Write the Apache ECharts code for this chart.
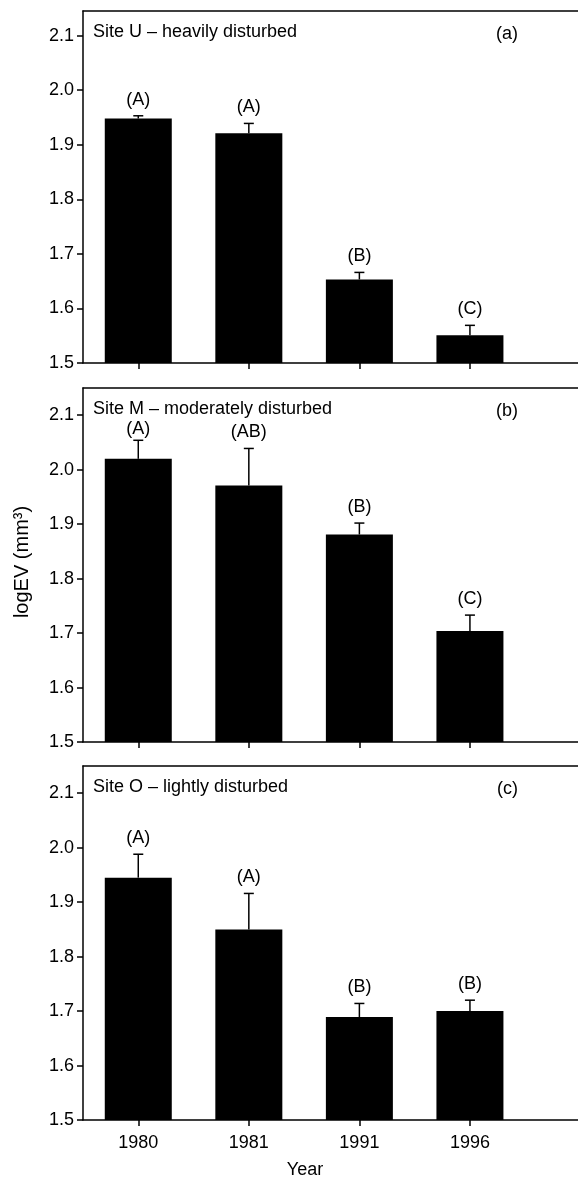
<!DOCTYPE html>
<html>
<head>
<meta charset="utf-8">
<script src="https://cdn.jsdelivr.net/npm/echarts@6/dist/echarts.min.js"></script>
<style>
html,body{margin:0;padding:0;background:#fff;}
#chart{width:578px;height:1182px;}
</style>
</head>
<body>
<div id="chart"></div>
<script>
// ---- data ----
const years = ['1980', '1981', '1991', '1996'];
const panelTitles = ['Site U \u2013 heavily disturbed', 'Site M \u2013 moderately disturbed', 'Site O \u2013 lightly disturbed'];
const panelTags = ['(a)', '(b)', '(c)'];
const yTicks = [1.5, 1.6, 1.7, 1.8, 1.9, 2.0, 2.1];

const meanU = [1.948, 1.921, 1.653, 1.551];
const seU = [0.005, 0.018, 0.013, 0.018];
const groupU = ['(A)', '(A)', '(B)', '(C)'];

const meanM = [2.020, 1.971, 1.881, 1.704];
const seM = [0.034, 0.068, 0.021, 0.029];
const groupM = ['(A)', '(AB)', '(B)', '(C)'];

const meanO = [1.945, 1.850, 1.689, 1.700];
const seO = [0.043, 0.066, 0.025, 0.020];
const groupO = ['(A)', '(A)', '(B)', '(B)'];

const yAxisTitle = 'logEV (mm\u00B3)';
const xAxisTitle = 'Year';

// ---- layout ----
const FONT = '"Liberation Sans", Arial, Helvetica, sans-serif';
const FS = 18;
const W = 578;
const panels = [
  { top: 11, height: 352, max: 2.145, mean: meanU, se: seU, grp: groupU },
  { top: 388, height: 354, max: 2.15, mean: meanM, se: seM, grp: groupM },
  { top: 766, height: 354, max: 2.15, mean: meanO, se: seO, grp: groupO }
];
const LEFT = 83;
const BAND = 111;
const X_MIN = 0.5;
const X_MAX = X_MIN + (W + 2 - LEFT) / BAND; // plot runs past the right edge

const grids = [], xAxes = [], yAxes = [], series = [], graphics = [];
const xPos = years.map((y, i) => i + 1);
const lineStyle = { color: '#000', width: 1.5 };

panels.forEach((p, gi) => {
  grids.push({ left: LEFT, top: p.top, right: -2, height: p.height, show: false });
  // bottom axis
  xAxes.push({
    type: 'value', gridIndex: gi, min: X_MIN, max: X_MAX, position: 'bottom',
    axisLine: { show: true, onZero: false, lineStyle },
    axisTick: { show: true, length: 6, customValues: xPos, lineStyle },
    axisLabel: {
      show: gi === 2, customValues: xPos, margin: 14,
      formatter: v => years[Math.round(v) - 1] || '',
      color: '#000', fontFamily: FONT, fontSize: FS
    },
    splitLine: { show: false }
  });
  // top frame line
  xAxes.push({
    type: 'value', gridIndex: gi, min: X_MIN, max: X_MAX, position: 'top',
    axisLine: { show: true, onZero: false, lineStyle },
    axisTick: { show: false }, axisLabel: { show: false }, splitLine: { show: false }
  });
  yAxes.push({
    type: 'value', gridIndex: gi, min: 1.5, max: p.max,
    axisLine: { show: true, onZero: false, lineStyle },
    axisTick: { show: true, length: 6, customValues: yTicks, lineStyle },
    axisLabel: {
      customValues: yTicks, margin: 9,
      formatter: v => Number(v).toFixed(1),
      color: '#000', fontFamily: FONT, fontSize: FS
    },
    splitLine: { show: false }
  });
  series.push({
    type: 'bar', xAxisIndex: gi * 2, yAxisIndex: gi,
    barWidth: 67,
    itemStyle: { color: '#000' },
    data: p.mean.map((m, i) => [xPos[i], m]),
    clip: true,
    silent: true
  });
  const grp = p.grp, se = p.se;
  series.push({
    type: 'custom', xAxisIndex: gi * 2, yAxisIndex: gi,
    data: p.mean.map((m, i) => [xPos[i], m, se[i]]),
    renderItem: (params, api) => {
      const x = api.value(0), m = api.value(1), e = api.value(2);
      const base = api.coord([x, m]);
      const top = api.coord([x, m + e]);
      const cap = 5;
      const gridTop = params.coordSys.y;
      let labelBottom = top[1] - 7;
      const minTop = gridTop + 35;
      if (labelBottom - 15 < minTop) labelBottom = minTop + 15;
      return {
        type: 'group',
        children: [
          { type: 'line', shape: { x1: base[0], y1: base[1], x2: top[0], y2: top[1] }, style: { stroke: '#000', lineWidth: 1.5 } },
          { type: 'line', shape: { x1: top[0] - cap, y1: top[1], x2: top[0] + cap, y2: top[1] }, style: { stroke: '#000', lineWidth: 1.5 } },
          { type: 'text', x: top[0], y: labelBottom, style: { text: grp[params.dataIndex], textAlign: 'center', textVerticalAlign: 'bottom', fontFamily: FONT, fontSize: FS, fill: '#000' } }
        ]
      };
    },
    silent: true, z: 3
  });
  graphics.push({
    type: 'text', x: LEFT + 10, y: p.top + 21,
    style: { text: panelTitles[gi], textVerticalAlign: 'middle', textAlign: 'left', fontFamily: FONT, fontSize: FS, fill: '#000' }
  });
  graphics.push({
    type: 'text', x: 518, y: p.top + 23,
    style: { text: panelTags[gi], textVerticalAlign: 'middle', textAlign: 'right', fontFamily: FONT, fontSize: FS, fill: '#000' }
  });
});

graphics.push({
  type: 'text', x: 22, y: 562, rotation: Math.PI / 2,
  style: { text: yAxisTitle, textAlign: 'center', textVerticalAlign: 'middle', fontFamily: FONT, fontSize: 20, fill: '#000' }
});
graphics.push({
  type: 'text', x: LEFT + 2 * BAND, y: 1170,
  style: { text: xAxisTitle, textAlign: 'center', textVerticalAlign: 'middle', fontFamily: FONT, fontSize: FS, fill: '#000' }
});

const chart = echarts.init(document.getElementById('chart'), null, { renderer: 'canvas' });
chart.setOption({
  animation: false,
  backgroundColor: '#fff',
  grid: grids,
  xAxis: xAxes,
  yAxis: yAxes,
  series: series,
  graphic: graphics
});
</script>
</body>
</html>
